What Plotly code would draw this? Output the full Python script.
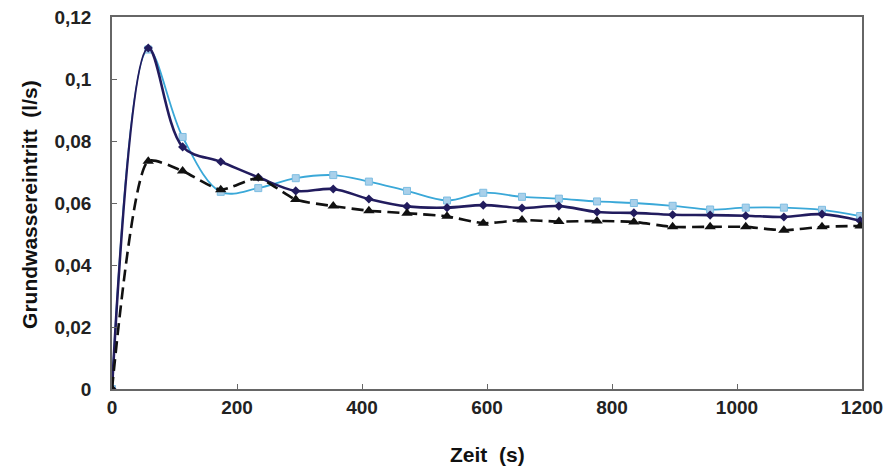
import plotly.graph_objects as go

time_s = [0, 58, 113, 174, 234, 294, 354, 411, 472, 536, 594, 656, 715, 776, 835, 897, 957, 1014, 1075, 1136, 1197]

series_dark = [0, 0.1100, 0.0781, 0.0733, 0.0683, 0.0639, 0.0645, 0.0613, 0.0589, 0.0585, 0.0593, 0.0584, 0.0590, 0.0571, 0.0568, 0.0562, 0.0561, 0.0559, 0.0555, 0.0564, 0.0543]
series_light = [0, 0.1095, 0.0813, 0.0636, 0.0648, 0.0680, 0.0690, 0.0669, 0.0639, 0.0608, 0.0633, 0.0620, 0.0614, 0.0605, 0.0600, 0.0591, 0.0579, 0.0585, 0.0585, 0.0578, 0.0558]
series_dashed = [0, 0.0735, 0.0703, 0.0643, 0.0680, 0.0611, 0.0590, 0.0575, 0.0567, 0.0557, 0.0535, 0.0545, 0.0540, 0.0542, 0.0539, 0.0523, 0.0523, 0.0523, 0.0512, 0.0523, 0.0526]

x_ticks = [0, 200, 400, 600, 800, 1000, 1200]
y_ticks = [0, 0.02, 0.04, 0.06, 0.08, 0.1, 0.12]

x_title = "Zeit  (s)"
y_title = "Grundwassereintritt  (l/s)"

FONT = "Liberation Sans, Arial, sans-serif"

fig = go.Figure()

fig.add_trace(go.Scatter(
    x=time_s, y=series_light, mode="lines+markers",
    line=dict(color="#3aa8d8", width=1.8, shape="spline", smoothing=1.0),
    marker=dict(symbol="square", size=7, color="#a9d0ea", line=dict(color="#7dbde2", width=1)),
    showlegend=False))

fig.add_trace(go.Scatter(
    x=time_s, y=series_dark, mode="lines+markers",
    line=dict(color="#221c5e", width=2.6, shape="spline", smoothing=1.0),
    marker=dict(symbol="diamond", size=7, color="#221c5e"),
    showlegend=False))

fig.add_trace(go.Scatter(
    x=time_s, y=series_dashed, mode="lines+markers",
    line=dict(color="#111111", width=2.6, dash="12px,6px", shape="spline", smoothing=0.6),
    marker=dict(symbol="triangle-up", size=10, color="#111111"),
    showlegend=False))

fig.update_layout(
    width=887, height=475,
    margin=dict(l=112, r=25, t=17, b=86),
    paper_bgcolor="white", plot_bgcolor="white",
    separators=",.",
    font=dict(family=FONT, color="#222222"),
    annotations=[
        dict(text=x_title, xref="paper", yref="paper", x=0.5, y=-0.177, xanchor="center", yanchor="middle",
             showarrow=False, font=dict(family=FONT, size=21, color="#111111", weight="bold")),
        dict(text=y_title, xref="paper", yref="paper", x=-0.1093, y=0.495, xanchor="center", yanchor="middle",
             textangle=-90, showarrow=False, font=dict(family=FONT, size=21, color="#111111", weight="bold")),
    ],
)

fig.update_xaxes(
    range=[0, 1200], tickvals=x_ticks, ticks="inside", ticklen=5, tickcolor="#666666",
    showline=True, mirror=True, linecolor="#666666", linewidth=1.5,
    showgrid=False, zeroline=False, automargin=False, ticklabeloverflow="allow",
    tickfont=dict(family=FONT, size=19, color="#222222", weight="bold"),
)

fig.update_yaxes(
    range=[0, 0.12], tickvals=y_ticks, ticks="inside", ticklen=5, tickcolor="#666666",
    showline=True, mirror=True, linecolor="#666666", linewidth=1.5,
    showgrid=False, zeroline=False, automargin=False, ticklabeloverflow="allow",
    ticklabelstandoff=15,
    tickfont=dict(family=FONT, size=19, color="#222222", weight="bold"),
)

fig.write_html("out.html", config={"displayModeBar": False},
               post_script="document.body.style.margin='0px';document.body.style.overflow='hidden';")
